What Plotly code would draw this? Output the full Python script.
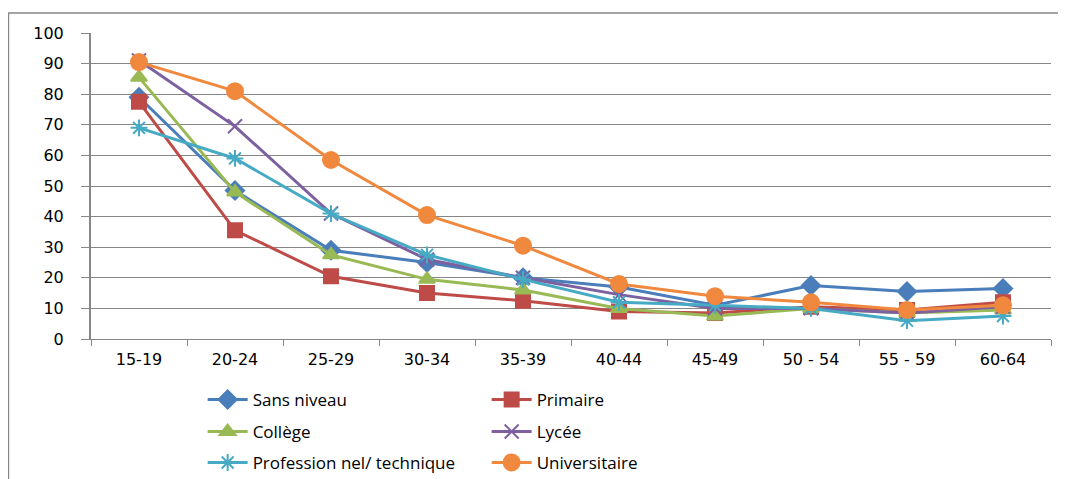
import plotly.graph_objects as go

# age groups on the x axis
groupes = ["15-19", "20-24", "25-29", "30-34", "35-39", "40-44", "45-49", "50 - 54", "55 - 59", "60-64"]

# values per education level
sans_niveau = [79, 48.5, 29, 25, 20, 17, 11, 17.5, 15.5, 16.5]
primaire = [77.5, 35.5, 20.5, 15, 12.5, 9, 8.5, 10.5, 9.5, 12]
college = [85.5, 48, 27.5, 19.5, 16, 10, 7.5, 10, 8.5, 9.5]
lycee = [91, 69.5, 41, 26, 20, 14.5, 10, 10, 8.5, 10.5]
pro_tech = [69, 59, 41, 27.5, 19.5, 12, 11, 10, 6, 7.5]
universitaire = [90.5, 81, 58.5, 40.5, 30.5, 18, 14, 12, 9.5, 11]

series = [
    ("Sans niveau", sans_niveau, "#4A7EBB", "diamond", 14, "legend"),
    ("Primaire", primaire, "#BE4B48", "square", 14, "legend"),
    ("Collège", college, "#98B954", "triangle-up", 14, "legend2"),
    ("Lycée", lycee, "#7D60A0", "x-thin", 14, "legend2"),
    ("Profession nel/ technique", pro_tech, "#46AAC5", "asterisk", 14, "legend3"),
    ("Universitaire", universitaire, "#F0883E", "circle", 16, "legend3"),
]

fig = go.Figure()
for name, vals, color, symbol, size, leg in series:
    fig.add_trace(go.Scatter(
        x=groupes, y=vals, name=name, mode="lines+markers",
        line=dict(color=color, width=3),
        marker=dict(symbol=symbol, size=size, color=color,
                    line=dict(color=color, width=2)),
        legend=leg,
    ))

grid = "#868686"
leg_font = dict(family="Open Sans", size=17, color="#000000")
legend_common = dict(orientation="h", xanchor="left", yanchor="middle",
                     x=0.1163, entrywidth=229, font=leg_font,
                     bgcolor="rgba(0,0,0,0)", itemwidth=40)

# the page body adds an 8px offset, so margins are shifted to compensate
fig.update_layout(
    width=1066, height=479,
    margin=dict(l=83, r=23, t=25, b=148, autoexpand=False),
    paper_bgcolor="white", plot_bgcolor="white",
    font=dict(family="DejaVu Sans", size=16, color="#000000"),
    xaxis=dict(type="category", showgrid=False, showline=True, linecolor=grid,
               linewidth=1, ticks="outside", tickson="boundaries", ticklen=6,
               tickcolor=grid, range=[-0.5, 9.5], ticklabelstandoff=6,
               automargin=False),
    yaxis=dict(range=[0, 100], dtick=10, showgrid=True, gridcolor=grid,
               gridwidth=1, showline=True, linecolor=grid, linewidth=2,
               ticks="outside", ticklen=8, tickcolor=grid,
               ticklabelstandoff=14, zeroline=False, automargin=False),
    legend=dict(legend_common, y=-0.199),
    legend2=dict(legend_common, y=-0.304),
    legend3=dict(legend_common, y=-0.405),
    shapes=[
        dict(type="line", xref="paper", yref="paper", x0=-0.0865, x1=1.016,
             y0=1.065, y1=1.065, line=dict(color=grid, width=1.5)),
        dict(type="line", xref="paper", yref="paper", x0=-0.0865, x1=-0.0865,
             y0=1.065, y1=-0.49, line=dict(color=grid, width=2.5)),
    ],
)

fig.write_html("out.html")
